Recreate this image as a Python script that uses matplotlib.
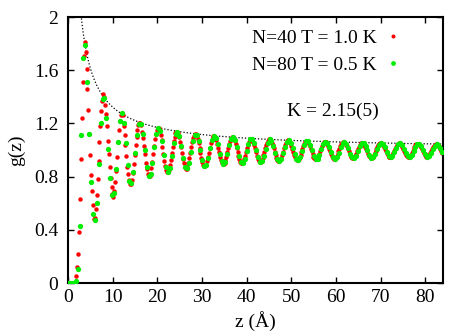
import numpy as np
import matplotlib
matplotlib.use('Agg')
import matplotlib.pyplot as plt

plt.rcParams['font.family'] = ['Liberation Serif', 'DejaVu Serif']

# sampling steps of the two histograms (Angstrom)
red_dz = 0.2075
green_dz = 0.43

# g(z), N=40 T=1.0 K (red)
red_g = [
    0, 0, 0, 0, 0, 0, 0, 0, 0, 0.05, 0.12, 0.22, 0.38, 0.63, 0.93, 1.24, 1.51, 1.71, 1.81, 1.74,
    1.61, 1.46, 1.30, 1.12, 0.96, 0.81, 0.69, 0.59, 0.48, 0.49, 0.56, 0.66, 0.78, 0.92, 1.06, 1.18, 1.29, 1.37, 1.42, 1.40,
    1.34, 1.27, 1.18, 1.07, 0.97, 0.87, 0.79, 0.72, 0.67, 0.65, 0.69, 0.76, 0.84, 0.95, 1.06, 1.15, 1.22, 1.26, 1.28, 1.265,
    1.180, 1.116, 1.040, 0.957, 0.875, 0.818, 0.771, 0.746, 0.746, 0.771, 0.830, 0.891, 0.963, 1.035, 1.101, 1.148, 1.186, 1.206, 1.206, 1.186,
    1.139, 1.089, 1.031, 0.967, 0.903, 0.858, 0.821, 0.802, 0.802, 0.821, 0.865, 0.913, 0.970, 1.028, 1.080, 1.119, 1.151, 1.167, 1.167, 1.151,
    1.114, 1.073, 1.025, 0.973, 0.921, 0.882, 0.852, 0.836, 0.836, 0.852, 0.888, 0.928, 0.975, 1.023, 1.067, 1.100, 1.126, 1.139, 1.139, 1.126,
    1.096, 1.062, 1.021, 0.977, 0.933, 0.900, 0.874, 0.860, 0.860, 0.874, 0.903, 0.938, 0.979, 1.020, 1.058, 1.087, 1.109, 1.121, 1.121, 1.109,
    1.083, 1.054, 1.018, 0.980, 0.942, 0.913, 0.890, 0.878, 0.878, 0.890, 0.915, 0.945, 0.981, 1.017, 1.051, 1.076, 1.096, 1.107, 1.107, 1.096,
    1.074, 1.048, 1.016, 0.982, 0.949, 0.922, 0.902, 0.891, 0.891, 0.902, 0.924, 0.951, 0.983, 1.015, 1.045, 1.068, 1.086, 1.095, 1.095, 1.086,
    1.066, 1.043, 1.015, 0.984, 0.954, 0.930, 0.912, 0.902, 0.902, 0.912, 0.932, 0.956, 0.985, 1.014, 1.041, 1.062, 1.078, 1.086, 1.086, 1.078,
    1.060, 1.039, 1.013, 0.986, 0.958, 0.936, 0.920, 0.911, 0.911, 0.920, 0.938, 0.960, 0.986, 1.013, 1.037, 1.056, 1.071, 1.079, 1.079, 1.071,
    1.055, 1.035, 1.012, 0.987, 0.962, 0.942, 0.926, 0.918, 0.918, 0.926, 0.943, 0.963, 0.987, 1.012, 1.034, 1.052, 1.065, 1.073, 1.073, 1.065,
    1.051, 1.033, 1.011, 0.988, 0.965, 0.946, 0.932, 0.925, 0.925, 0.932, 0.947, 0.966, 0.988, 1.011, 1.032, 1.048, 1.061, 1.067, 1.067, 1.061,
    1.047, 1.030, 1.010, 0.989, 0.967, 0.950, 0.937, 0.930, 0.930, 0.937, 0.951, 0.968, 0.989, 1.010, 1.029, 1.045, 1.057, 1.063, 1.063, 1.057,
    1.044, 1.028, 1.010, 0.990, 0.969, 0.953, 0.941, 0.934, 0.934, 0.941, 0.954, 0.970, 0.990, 1.009, 1.027, 1.042, 1.053, 1.059, 1.059, 1.053,
    1.041, 1.027, 1.009, 0.990, 0.971, 0.956, 0.944, 0.938, 0.938, 0.944, 0.957, 0.972, 0.990, 1.009, 1.026, 1.040, 1.050, 1.055, 1.055, 1.050,
    1.039, 1.025, 1.009, 0.991, 0.973, 0.958, 0.948, 0.942, 0.942, 0.948, 0.959, 0.974, 0.991, 1.008, 1.024, 1.037, 1.047, 1.052, 1.052, 1.047,
    1.037, 1.024, 1.008, 0.991, 0.974, 0.961, 0.950, 0.945, 0.945, 0.950, 0.961, 0.975, 0.991, 1.008, 1.023, 1.035, 1.045, 1.050, 1.050, 1.045,
    1.035, 1.022, 1.008, 0.992, 0.976, 0.963, 0.953, 0.948, 0.948, 0.953, 0.963, 0.976, 0.992, 1.008, 1.022, 1.034, 1.043, 1.047, 1.047, 1.043,
    1.033, 1.021, 1.007, 0.992, 0.977, 0.964, 0.955, 0.950, 0.950, 0.955, 0.965, 0.977, 0.992, 1.007, 1.021, 1.032, 1.041, 1.045, 1.045, 1.041,
    1.032, 1.020, 1.007, 0.992, 0.978,
]

# g(z), N=80 T=0.5 K (green)
green_g = [
    0, 0, 0, 0, 0.015, 0.105, 0.43, 1.11, 1.69, 1.79, 1.51, 1.12, 0.76, 0.52, 0.47, 0.60, 0.895, 1.205, 1.38, 1.39,
    1.24, 1.01, 0.79, 0.66, 0.68, 0.86, 1.06, 1.22, 1.28,
    1.201, 1.054, 0.887, 0.770, 0.752, 0.833, 0.976, 1.113, 1.196, 1.197, 1.119, 0.997, 0.873, 0.805, 0.818, 0.903, 1.022, 1.121, 1.166, 1.144,
    1.065, 0.959, 0.870, 0.836, 0.868, 0.954, 1.050, 1.120, 1.139,
    1.105, 1.029, 0.939, 0.874, 0.862, 0.906, 0.987, 1.065, 1.114, 1.116, 1.071, 0.998, 0.923, 0.880, 0.887, 0.940, 1.014, 1.077, 1.107, 1.093,
    1.042, 0.973, 0.914, 0.891, 0.912, 0.969, 1.034, 1.082, 1.095,
    1.072, 1.020, 0.958, 0.912, 0.903, 0.934, 0.990, 1.046, 1.081, 1.083, 1.051, 0.999, 0.944, 0.913, 0.918, 0.956, 1.010, 1.056, 1.079, 1.069,
    1.031, 0.980, 0.935, 0.918, 0.934, 0.976, 1.026, 1.062, 1.073,
    1.055, 1.015, 0.967, 0.932, 0.925, 0.949, 0.993, 1.036, 1.064, 1.065, 1.040, 0.999, 0.956, 0.931, 0.935, 0.965, 1.008, 1.045, 1.063, 1.055,
    1.025, 0.984, 0.948, 0.934, 0.947, 0.981, 1.021, 1.050, 1.059,
    1.045, 1.012, 0.973, 0.945, 0.939, 0.958, 0.994, 1.030, 1.052, 1.053, 1.033, 0.999, 0.964, 0.943, 0.946, 0.971, 1.007, 1.037, 1.052, 1.046,
    1.021, 0.987, 0.957, 0.945, 0.955, 0.984, 1.018, 1.042, 1.050,
    1.038, 1.010, 0.977, 0.953, 0.948, 0.964, 0.995, 1.025, 1.045, 1.046, 1.028, 0.999, 0.969, 0.951, 0.954, 0.975, 1.006, 1.032, 1.045, 1.039,
    1.018, 0.988,
]

# envelope 1 + a z^(-2/K)
K = 2.15
env_a = 2.75

labels = ['N=40 T = 1.0 K', 'N=80 T = 0.5 K']
xticks = [0, 10, 20, 30, 40, 50, 60, 70, 80]
yticks = [0, 0.4, 0.8, 1.2, 1.6, 2]
yticklabels = ['0', '0.4', '0.8', '1.2', '1.6', '2']

red_z = red_dz * np.arange(len(red_g))
green_z = green_dz * np.arange(len(green_g))
env_z = np.linspace(2.5, 84, 500)
env_g = 1 + env_a * env_z ** (-2 / K)

fs = 14

fig = plt.figure(figsize=(4.49, 3.32), dpi=100)
ax = fig.add_axes([68 / 449, 1 - 283 / 332, 375 / 449, 266 / 332])

ax.plot(env_z, env_g, color='black', lw=0.9, ls=(0, (1, 1.6)), zorder=1)
ax.plot(red_z, red_g, ls='none', marker='o', ms=3.2, color='#ff0000', mec='none', label=labels[0], zorder=2)
ax.plot(green_z, green_g, ls='none', marker='o', ms=3.8, color='#00ee00', mec='none', label=labels[1], zorder=3)

ax.set_xlim(0, 84)
ax.set_ylim(0, 2)
ax.set_xticks(xticks)
ax.set_yticks(yticks)
ax.set_yticklabels(yticklabels)
ax.tick_params(direction='in', top=True, right=True, length=4, width=1, labelsize=fs)
ax.tick_params(axis='x', pad=4)
ax.tick_params(axis='y', pad=7)
for s in ax.spines.values():
    s.set_linewidth(1.5)

ax.set_xlabel('z (Å)', fontsize=fs, labelpad=4)
ax.set_ylabel('g(z)', fontsize=fs, labelpad=6)

ax.legend(loc='upper right', bbox_to_anchor=(0.8925, 0.955), frameon=False, markerfirst=False,
          handlelength=1.0, handletextpad=0.33, borderaxespad=0, borderpad=0, labelspacing=0.5,
          fontsize=fs, markerscale=0.9)
ax.text(59.3, 1.29, 'K = 2.15(5)', ha='center', va='center', fontsize=fs)

fig.savefig('out.png', dpi=100)
